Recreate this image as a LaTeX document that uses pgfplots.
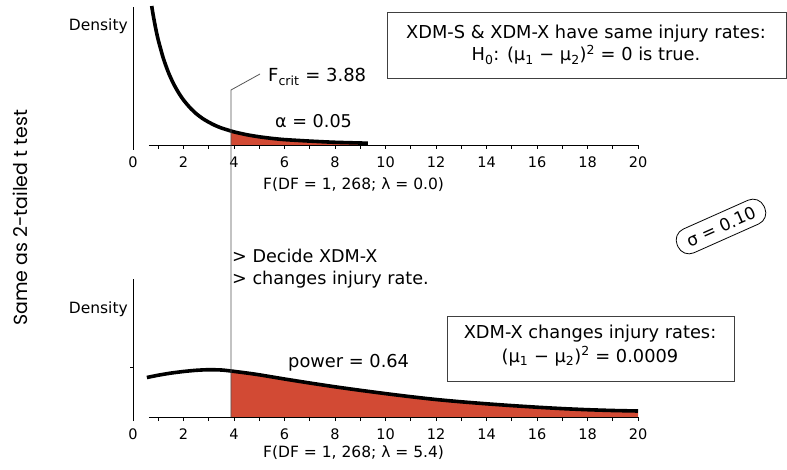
\documentclass[border=0pt]{standalone}
\usepackage{fontspec}
\setmainfont{DejaVu Sans}
\newfontfamily\labfont{Poppins}
\usepackage{pgfplots}
\pgfplotsset{compat=1.18}
\definecolor{fillred}{HTML}{D24A34}
\definecolor{vline}{HTML}{555555}
\pgfplotsset{
  myax/.style={
    scale only axis, width=505pt, height=138pt,
    xmin=0, xmax=20, ymin=0, ymax=138,
    axis x line*=bottom, axis y line*=left,
    axis line style={draw=none},
    ytick=\empty,
    xtick={0,2,...,20}, minor xtick={1,3,...,19},
    tick align=outside, major tick length=4pt, minor tick length=4pt,
    tick style={black, line width=0.6pt},
    xticklabel style={font=\fontsize{14.5}{16}\selectfont, inner sep=1pt, yshift=-7pt},
    /pgf/number format/assume math mode=true,
    clip=false,
    anchor=south west,
  }
}
\begin{document}
\begin{tikzpicture}
\path[use as bounding box] (0,0) rectangle (787pt,469pt);
% top axis
\begin{axis}[myax, at={(133pt,324pt)}]
\addplot[fill=fillred, draw=none] coordinates {
(3.88,14.0) (4.0,13.1) (4.5,10.3) (5.0,8.2) (5.5,6.6) (6.0,5.4) (7.0,3.9) (8.0,2.7) (9.3,1.8)} |- (axis cs:3.88,0) -- cycle;
\addplot[black, line width=3.6pt, smooth, tension=0.4] coordinates {
(0.74,139) (0.8,129.8) (0.9,116.4) (1.0,105) (1.2,86.8) (1.4,72.7) (1.6,61.5) (1.8,52.5) (2.0,45) (2.25,37.5) (2.5,31.4) (2.75,26.6) (3.0,22.8) (3.25,19.6) (3.5,17.0) (3.88,14.0) (4.0,13.1) (4.5,10.3) (5.0,8.2) (5.5,6.6) (6.0,5.4) (7.0,3.9) (8.0,2.7) (9.3,1.8)};
\draw[black, line width=0.8pt] (axis cs:0.63,0) -- (axis cs:20,0);
\draw[black, line width=0.8pt] (axis cs:0,-5) -- (axis cs:0,138);
\end{axis}
% bottom axis
\begin{axis}[myax, at={(133pt,52pt)}]
\addplot[fill=fillred, draw=none] coordinates {
(3.88,46.0) (4.5,44.0) (5,42.2) (6,38.0) (7,34.0) (8,30.2) (9,26.7) (10,23.4) (11,20.3) (12,17.5) (13,15.2) (14,13.2) (15,11.4) (16,9.8) (17,8.4) (18,7.3) (19,6.5) (20,6.0)} |- (axis cs:3.88,0) -- cycle;
\addplot[black, line width=3.6pt, smooth, tension=0.4] coordinates {
(0.55,39.5) (1,41.8) (1.5,43.9) (2,45.5) (2.5,46.7) (3,47.3) (3.5,47.0) (3.88,46.0) (4.5,44.0) (5,42.2) (6,38.0) (7,34.0) (8,30.2) (9,26.7) (10,23.4) (11,20.3) (12,17.5) (13,15.2) (14,13.2) (15,11.4) (16,9.8) (17,8.4) (18,7.3) (19,6.5) (20,6.0)};
\draw[black, line width=0.8pt] (axis cs:0.63,0) -- (axis cs:20,0);
\draw[black, line width=0.8pt] (axis cs:0,-3) -- (axis cs:0,138);
\draw[black, line width=0.6pt] (axis cs:0,50) -- ++(-3pt,0);
\end{axis}
% critical line
\draw[vline, line width=0.8pt] (231pt,52pt) -- (231pt,379pt) -- (260pt,395pt);
% texts
\node[anchor=east, inner sep=1pt, font=\fontsize{15.5}{17}\selectfont] at (129pt,443pt) {Density};
\node[anchor=east, inner sep=1pt, font=\fontsize{15.5}{17}\selectfont] at (129pt,160pt) {Density};
\node[anchor=west, inner sep=0pt, font=\fontsize{15.5}{17}\selectfont] at (263pt,284pt) {F(DF = 1, 268; λ = 0.0)};
\node[anchor=west, inner sep=0pt, font=\fontsize{15.5}{17}\selectfont] at (263pt,16pt) {F(DF = 1, 268; λ = 5.4)};
\node[anchor=base west, inner sep=0pt, font=\fontsize{18}{20}\selectfont] at (268pt,387pt) {F\textsubscript{crit} = 3.88};
\node[anchor=base west, inner sep=0pt, font=\fontsize{17.6}{20}\selectfont] at (275pt,341pt) {α = 0.05};
\node[anchor=base west, inner sep=0pt, font=\fontsize{17.8}{20}\selectfont] at (288pt,102pt) {power = 0.64};
\node[anchor=base west, inner sep=0pt, font=\fontsize{17.6}{20}\selectfont] at (232pt,206pt) {> Decide XDM-X};
\node[anchor=base west, inner sep=0pt, font=\fontsize{17.6}{20}\selectfont] at (232pt,184pt) {> changes injury rate.};
\draw[black!75, line width=0.8pt, fill=white] (387pt,391pt) rectangle (786pt,457pt);
\node[anchor=base, inner sep=0pt, font=\fontsize{17.8}{20}\selectfont] at (586pt,430pt) {XDM-S \& XDM-X have same injury rates:};
\node[anchor=base, inner sep=0pt, font=\fontsize{17.8}{20}\selectfont] at (586pt,408pt) {H\textsubscript{0}: (μ\textsubscript{1} − μ\textsubscript{2})\textsuperscript{2} = 0 is true.};
\draw[black!75, line width=0.8pt, fill=white] (447pt,88pt) rectangle (734pt,153pt);
\node[anchor=base, inner sep=0pt, font=\fontsize{17.8}{20}\selectfont] at (590pt,131pt) {XDM-X changes injury rates:};
\node[anchor=base, inner sep=0pt, font=\fontsize{17.8}{20}\selectfont] at (590pt,107pt) {(μ\textsubscript{1} − μ\textsubscript{2})\textsuperscript{2} = 0.0009};
\node[draw=black, line width=0.8pt, rounded corners=12pt, rotate=24, minimum height=26pt, minimum width=95pt, inner xsep=6pt, font=\fontsize{17}{19}\selectfont] at (721pt,242.5pt) {σ = 0.10};
\node[rotate=90, font=\labfont\fontsize{19}{21}\selectfont] at (20pt,251pt) {Same as 2-tailed t test};
\end{tikzpicture}
\end{document}
